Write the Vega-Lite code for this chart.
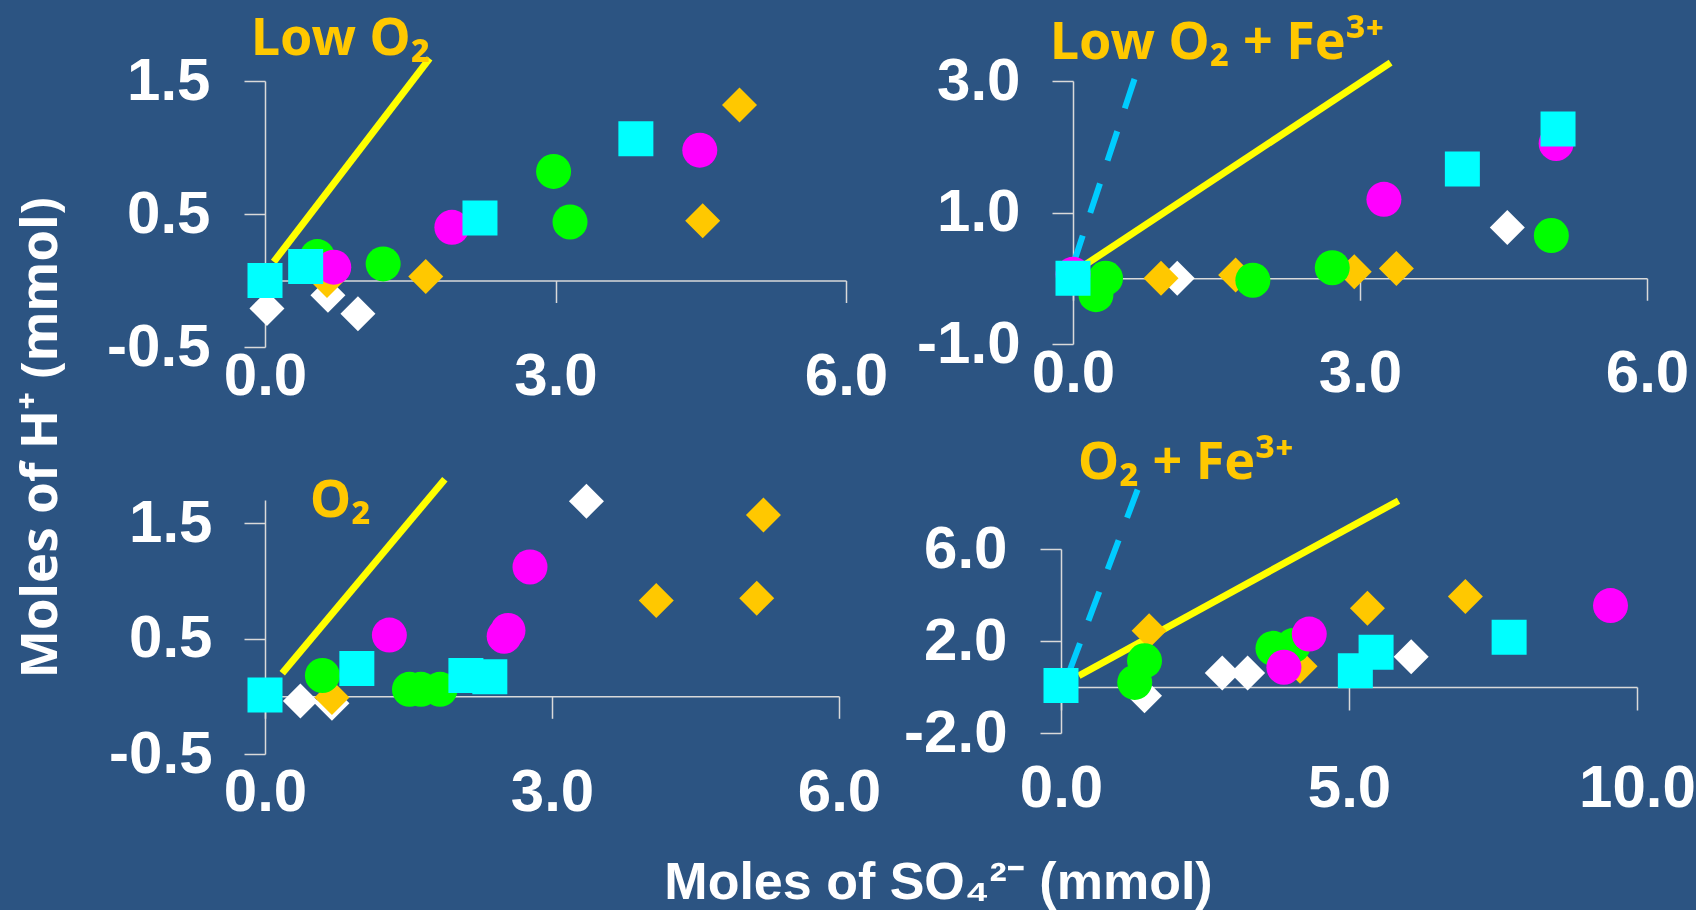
{
  "$schema": "https://vega.github.io/schema/vega-lite/v6.json",
  "background": "#2C5482",
  "padding": {"left": 15, "top": 13, "right": 0, "bottom": 0},
  "config": {
    "view": {"stroke": null},
    "axis": {"grid": false, "title": null, "domainColor": "#D9D9D9", "tickColor": "#D9D9D9", "domainWidth": 1.5, "tickWidth": 1.5, "labelFont": "Liberation Sans", "labelFontWeight": "bold", "labelFontSize": 60, "labelColor": "#FFFFFF", "labelFlush": false, "labelOverlap": false, "labelExpr": "replace(format(datum.value, '.1f'), '\u2212', '-')"},
    "title": {"font": "Noto Sans", "fontWeight": "bold", "fontSize": 52, "color": "#FFC800", "anchor": "start", "frame": "group", "baseline": "alphabetic"}
  },
  "datasets": {
    "rows": [
      {"panel": "p1", "kind": "W", "x": 0.02, "y": -0.21},
      {"panel": "p1", "kind": "W", "x": 0.65, "y": -0.11},
      {"panel": "p1", "kind": "W", "x": 0.96, "y": -0.25},
      {"panel": "p1", "kind": "G", "x": 0.64, "y": 0.0},
      {"panel": "p1", "kind": "G", "x": 1.66, "y": 0.03},
      {"panel": "p1", "kind": "G", "x": 4.52, "y": 0.45},
      {"panel": "p1", "kind": "G", "x": 4.9, "y": 1.32},
      {"panel": "p1", "kind": "N", "x": 0.54, "y": 0.18},
      {"panel": "p1", "kind": "N", "x": 1.22, "y": 0.125},
      {"panel": "p1", "kind": "N", "x": 2.98, "y": 0.82},
      {"panel": "p1", "kind": "N", "x": 3.15, "y": 0.44},
      {"panel": "p1", "kind": "M", "x": 0.71, "y": 0.1},
      {"panel": "p1", "kind": "M", "x": 1.93, "y": 0.4},
      {"panel": "p1", "kind": "M", "x": 4.49, "y": 0.98},
      {"panel": "p1", "kind": "C", "x": 0.0, "y": 0.0},
      {"panel": "p1", "kind": "C", "x": 0.42, "y": 0.105},
      {"panel": "p1", "kind": "C", "x": 2.22, "y": 0.47},
      {"panel": "p1", "kind": "C", "x": 3.83, "y": 1.065},
      {"panel": "p1", "kind": "yellow", "x": 0.09, "y": 0.14},
      {"panel": "p1", "kind": "yellow", "x": 1.7, "y": 1.67},

      {"panel": "p2", "kind": "W", "x": 1.09, "y": 0.0},
      {"panel": "p2", "kind": "W", "x": 4.54, "y": 0.77},
      {"panel": "p2", "kind": "G", "x": 0.92, "y": 0.0},
      {"panel": "p2", "kind": "G", "x": 1.7, "y": 0.05},
      {"panel": "p2", "kind": "G", "x": 2.94, "y": 0.1},
      {"panel": "p2", "kind": "G", "x": 3.38, "y": 0.15},
      {"panel": "p2", "kind": "N", "x": 0.34, "y": 0.0},
      {"panel": "p2", "kind": "N", "x": 0.24, "y": -0.25},
      {"panel": "p2", "kind": "N", "x": 1.88, "y": -0.03},
      {"panel": "p2", "kind": "N", "x": 2.71, "y": 0.16},
      {"panel": "p2", "kind": "N", "x": 5.0, "y": 0.65},
      {"panel": "p2", "kind": "M", "x": 0.0, "y": 0.06},
      {"panel": "p2", "kind": "M", "x": 3.25, "y": 1.2},
      {"panel": "p2", "kind": "M", "x": 5.05, "y": 2.05},
      {"panel": "p2", "kind": "C", "x": 0.0, "y": 0.0},
      {"panel": "p2", "kind": "C", "x": 4.07, "y": 1.66},
      {"panel": "p2", "kind": "C", "x": 5.07, "y": 2.27},
      {"panel": "p2", "kind": "yellow", "x": 0.05, "y": 0.13},
      {"panel": "p2", "kind": "yellow", "x": 3.32, "y": 3.28},
      {"panel": "p2", "kind": "dashed", "x": 0.0, "y": 0.2},
      {"panel": "p2", "kind": "dashed", "x": 0.67, "y": 3.15},

      {"panel": "p3", "kind": "W", "x": 0.37, "y": -0.04},
      {"panel": "p3", "kind": "W", "x": 0.7, "y": -0.06},
      {"panel": "p3", "kind": "W", "x": 3.36, "y": 1.69},
      {"panel": "p3", "kind": "G", "x": 0.7, "y": -0.01},
      {"panel": "p3", "kind": "G", "x": 4.09, "y": 0.83},
      {"panel": "p3", "kind": "G", "x": 5.14, "y": 0.85},
      {"panel": "p3", "kind": "G", "x": 5.21, "y": 1.57},
      {"panel": "p3", "kind": "N", "x": 0.6, "y": 0.18},
      {"panel": "p3", "kind": "N", "x": 1.51, "y": 0.06},
      {"panel": "p3", "kind": "N", "x": 1.63, "y": 0.06},
      {"panel": "p3", "kind": "N", "x": 1.83, "y": 0.06},
      {"panel": "p3", "kind": "M", "x": 1.3, "y": 0.53},
      {"panel": "p3", "kind": "M", "x": 2.5, "y": 0.52},
      {"panel": "p3", "kind": "M", "x": 2.54, "y": 0.57},
      {"panel": "p3", "kind": "M", "x": 2.77, "y": 1.12},
      {"panel": "p3", "kind": "C", "x": 0.0, "y": 0.01},
      {"panel": "p3", "kind": "C", "x": 0.96, "y": 0.24},
      {"panel": "p3", "kind": "C", "x": 2.1, "y": 0.18},
      {"panel": "p3", "kind": "C", "x": 2.35, "y": 0.17},
      {"panel": "p3", "kind": "yellow", "x": 0.18, "y": 0.2},
      {"panel": "p3", "kind": "yellow", "x": 1.88, "y": 1.88},

      {"panel": "p4", "kind": "W", "x": 1.45, "y": -0.38},
      {"panel": "p4", "kind": "W", "x": 2.8, "y": 0.61},
      {"panel": "p4", "kind": "W", "x": 3.24, "y": 0.61},
      {"panel": "p4", "kind": "W", "x": 6.08, "y": 1.32},
      {"panel": "p4", "kind": "G", "x": 1.53, "y": 2.45},
      {"panel": "p4", "kind": "G", "x": 4.15, "y": 0.9},
      {"panel": "p4", "kind": "G", "x": 5.32, "y": 3.42},
      {"panel": "p4", "kind": "G", "x": 7.02, "y": 3.93},
      {"panel": "p4", "kind": "N", "x": 1.28, "y": 0.2},
      {"panel": "p4", "kind": "N", "x": 1.45, "y": 1.14},
      {"panel": "p4", "kind": "N", "x": 3.68, "y": 1.68},
      {"panel": "p4", "kind": "N", "x": 4.03, "y": 1.8},
      {"panel": "p4", "kind": "M", "x": 3.87, "y": 0.86},
      {"panel": "p4", "kind": "M", "x": 4.31, "y": 2.3},
      {"panel": "p4", "kind": "M", "x": 9.54, "y": 3.54},
      {"panel": "p4", "kind": "C", "x": 0.0, "y": 0.06},
      {"panel": "p4", "kind": "C", "x": 5.47, "y": 1.51},
      {"panel": "p4", "kind": "C", "x": 5.11, "y": 0.71},
      {"panel": "p4", "kind": "C", "x": 7.78, "y": 2.16},
      {"panel": "p4", "kind": "yellow", "x": 0.31, "y": 0.49},
      {"panel": "p4", "kind": "yellow", "x": 5.86, "y": 8.1},
      {"panel": "p4", "kind": "dashed", "x": 0.14, "y": 0.64},
      {"panel": "p4", "kind": "dashed", "x": 1.33, "y": 8.58}
    ]
  },
  "title": {"text": "Moles of SO\u2084\u00b2\u207b (mmol)", "orient": "bottom", "anchor": "middle", "frame": "bounds", "font": "Liberation Sans", "fontWeight": "bold", "fontSize": 52, "color": "#FFFFFF", "baseline": "top", "offset": 36, "dx": 83},
  "bounds": "full",
  "spacing": 15,
  "hconcat": [
    {
      "title": {"text": "Moles of H\u207a (mmol)", "orient": "left", "anchor": "middle", "frame": "bounds", "font": "Noto Sans", "fontWeight": "bold", "fontSize": 51, "color": "#FFFFFF", "offset": 39, "dx": -20},
      "bounds": "flush",
      "spacing": 153,
      "vconcat": [
        {
          "width": 581, "height": 266,
          "title": {"text": "Low O\u2082", "dx": -14, "dy": 26},
          "data": {"name": "rows"},
          "transform": [{"filter": "datum.panel === 'p1'"}],
          "encoding": {
            "x": {"field": "x", "type": "quantitative", "scale": {"domain": [0, 6], "nice": false, "zero": false}, "axis": {"orient": "bottom", "offset": -66.5, "values": [0, 3, 6], "tickSize": 22, "labelPadding": 45}},
            "y": {"field": "y", "type": "quantitative", "scale": {"domain": [-0.5, 1.5], "nice": false, "zero": false}, "axis": {"orient": "left", "values": [-0.5, 0.5, 1.5], "tickSize": 21, "labelPadding": 34}}
          },
          "layer": [
            {"transform": [{"filter": "datum.kind === 'yellow'"}], "mark": {"type": "line", "color": "#FFFF00", "strokeWidth": 7, "strokeCap": "butt"}},
            {"transform": [{"filter": "datum.kind !== 'yellow' && datum.kind !== 'dashed'"}], "mark": {"type": "point", "filled": true, "opacity": 1, "size": 1225},
             "encoding": {
               "color": {"field": "kind", "type": "nominal", "scale": {"domain": ["W", "G", "N", "M", "C"], "range": ["#FFFFFF", "#FFC800", "#00FF00", "#FF00FF", "#00FFFF"]}, "legend": null},
               "shape": {"field": "kind", "type": "nominal", "scale": {"domain": ["W", "G", "N", "M", "C"], "range": ["diamond", "diamond", "circle", "circle", "square"]}, "legend": null}
             }}
          ]
        },
        {
          "width": 574, "height": 254,
          "title": {"text": "O\u2082", "dx": 45, "dy": 67},
          "data": {"name": "rows"},
          "transform": [{"filter": "datum.panel === 'p3'"}],
          "encoding": {
            "x": {"field": "x", "type": "quantitative", "scale": {"domain": [0, 6], "nice": false, "zero": false}, "axis": {"orient": "bottom", "offset": -57.7, "values": [0, 3, 6], "tickSize": 22, "labelPadding": 45}},
            "y": {"field": "y", "type": "quantitative", "scale": {"domain": [-0.5, 1.7], "nice": false, "zero": false}, "axis": {"orient": "left", "values": [-0.5, 0.5, 1.5], "tickSize": 21, "labelPadding": 32}}
          },
          "layer": [
            {"transform": [{"filter": "datum.kind === 'yellow'"}], "mark": {"type": "line", "color": "#FFFF00", "strokeWidth": 7, "strokeCap": "butt"}},
            {"transform": [{"filter": "datum.kind !== 'yellow' && datum.kind !== 'dashed'"}], "mark": {"type": "point", "filled": true, "opacity": 1, "size": 1225},
             "encoding": {
               "color": {"field": "kind", "type": "nominal", "scale": {"domain": ["W", "G", "N", "M", "C"], "range": ["#FFFFFF", "#FFC800", "#00FF00", "#FF00FF", "#00FFFF"]}, "legend": null},
               "shape": {"field": "kind", "type": "nominal", "scale": {"domain": ["W", "G", "N", "M", "C"], "range": ["diamond", "diamond", "circle", "circle", "square"]}, "legend": null}
             }}
          ]
        }
      ]
    },
    {
      "bounds": "flush",
      "spacing": 205,
      "vconcat": [
        {
          "width": 586, "height": 263,
          "title": {"text": "Low O\u2082 + Fe\u00b3\u207a", "dx": -11, "dy": 25},
          "data": {"name": "rows"},
          "transform": [{"filter": "datum.panel === 'p2'"}],
          "encoding": {
            "x": {"field": "x", "type": "quantitative", "scale": {"domain": [-0.1254, 6], "nice": false, "zero": false}, "axis": {"orient": "bottom", "offset": -65.75, "values": [0, 3, 6], "tickSize": 22, "labelPadding": 44}},
            "y": {"field": "y", "type": "quantitative", "scale": {"domain": [-1, 3], "nice": false, "zero": false}, "axis": {"orient": "left", "offset": -12, "values": [-1, 1, 3], "tickSize": 21, "labelPadding": 32}}
          },
          "layer": [
            {"transform": [{"filter": "datum.kind === 'dashed'"}], "mark": {"type": "line", "color": "#00CCFF", "strokeWidth": 6, "strokeCap": "butt", "strokeDash": [31, 24]}},
            {"transform": [{"filter": "datum.kind === 'yellow'"}], "mark": {"type": "line", "color": "#FFFF00", "strokeWidth": 7, "strokeCap": "butt"}},
            {"transform": [{"filter": "datum.kind !== 'yellow' && datum.kind !== 'dashed'"}], "mark": {"type": "point", "filled": true, "opacity": 1, "size": 1225},
             "encoding": {
               "color": {"field": "kind", "type": "nominal", "scale": {"domain": ["W", "G", "N", "M", "C"], "range": ["#FFFFFF", "#FFC800", "#00FF00", "#FF00FF", "#00FFFF"]}, "legend": null},
               "shape": {"field": "kind", "type": "nominal", "scale": {"domain": ["W", "G", "N", "M", "C"], "range": ["diamond", "diamond", "circle", "circle", "square"]}, "legend": null}
             }}
          ]
        },
        {
          "width": 576, "height": 184,
          "title": {"text": "O\u2082 + Fe\u00b3\u207a", "dx": 17, "dy": 16},
          "data": {"name": "rows"},
          "transform": [{"filter": "datum.panel === 'p4'"}],
          "encoding": {
            "x": {"field": "x", "type": "quantitative", "scale": {"domain": [0, 10], "nice": false, "zero": false}, "axis": {"orient": "bottom", "offset": -46, "values": [0, 5, 10], "tickSize": 23, "labelPadding": 49}},
            "y": {"field": "y", "type": "quantitative", "scale": {"domain": [-2, 6], "nice": false, "zero": false}, "axis": {"orient": "left", "values": [-2, 2, 6], "tickSize": 21, "labelPadding": 33}}
          },
          "layer": [
            {"transform": [{"filter": "datum.kind === 'dashed'"}], "mark": {"type": "line", "color": "#00CCFF", "strokeWidth": 6, "strokeCap": "butt", "strokeDash": [31, 24]}},
            {"transform": [{"filter": "datum.kind === 'yellow'"}], "mark": {"type": "line", "color": "#FFFF00", "strokeWidth": 7, "strokeCap": "butt"}},
            {"transform": [{"filter": "datum.kind !== 'yellow' && datum.kind !== 'dashed'"}], "mark": {"type": "point", "filled": true, "opacity": 1, "size": 1225},
             "encoding": {
               "color": {"field": "kind", "type": "nominal", "scale": {"domain": ["W", "G", "N", "M", "C"], "range": ["#FFFFFF", "#FFC800", "#00FF00", "#FF00FF", "#00FFFF"]}, "legend": null},
               "shape": {"field": "kind", "type": "nominal", "scale": {"domain": ["W", "G", "N", "M", "C"], "range": ["diamond", "diamond", "circle", "circle", "square"]}, "legend": null}
             }}
          ]
        }
      ]
    }
  ]
}
